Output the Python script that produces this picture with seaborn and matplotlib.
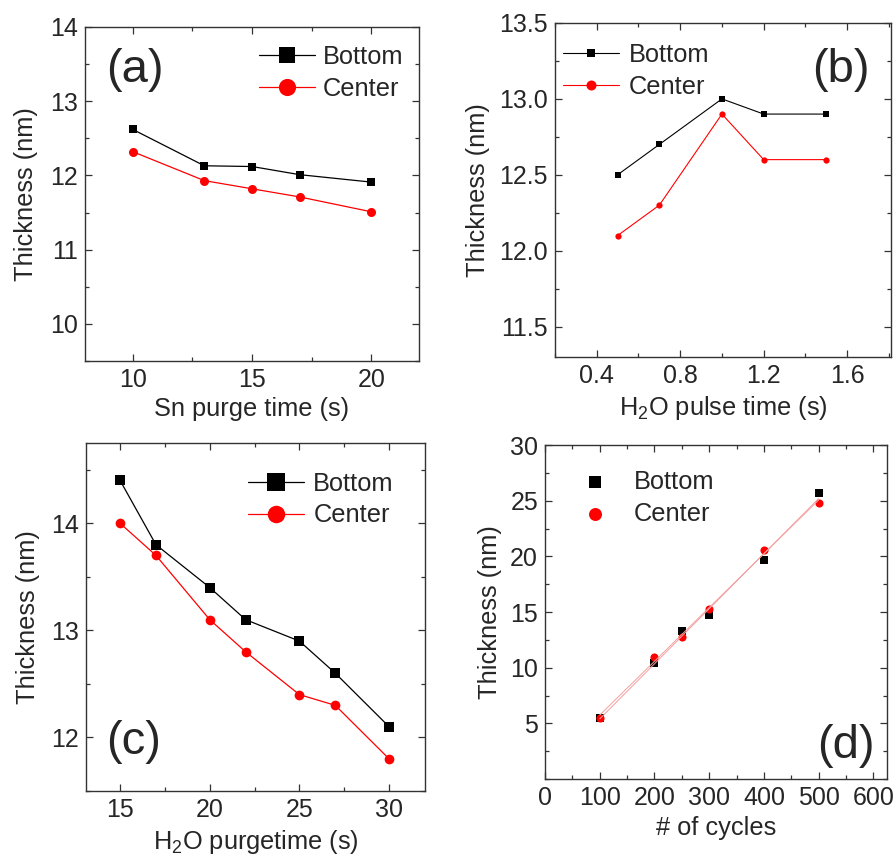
import numpy as np
import pandas as pd
import seaborn as sns
import matplotlib
matplotlib.use('Agg')
import matplotlib.pyplot as plt
from matplotlib.ticker import MultipleLocator, FormatStrFormatter

sns.set_style('ticks')
plt.rcParams['font.family'] = ['Liberation Sans', 'DejaVu Sans']
plt.rcParams['mathtext.fontset'] = 'custom'
plt.rcParams['mathtext.rm'] = 'Liberation Sans'
plt.rcParams['mathtext.it'] = 'Liberation Sans:italic'

# (a) Sn purge time
sn_purge = [10, 13, 15, 17, 20]
a_bottom = [12.62, 12.13, 12.12, 12.01, 11.91]
a_center = [12.32, 11.93, 11.82, 11.71, 11.51]

# (b) H2O pulse time
h2o_pulse = [0.5, 0.7, 1.0, 1.2, 1.5]
b_bottom = [12.5, 12.7, 13.0, 12.9, 12.9]
b_center = [12.1, 12.3, 12.9, 12.6, 12.6]

# (c) H2O purge time
h2o_purge = [15, 17, 20, 22, 25, 27, 30]
c_bottom = [14.4, 13.8, 13.4, 13.1, 12.9, 12.6, 12.1]
c_center = [14.0, 13.7, 13.1, 12.8, 12.4, 12.3, 11.8]

# (d) number of cycles
cycles = [100, 200, 250, 300, 400, 500]
d_bottom = [5.5, 10.4, 13.3, 14.7, 19.7, 25.7]
d_center = [5.5, 11.0, 12.8, 15.3, 20.6, 24.8]

fig = plt.figure(figsize=(8.96, 8.57), dpi=100)
ax_a = fig.add_axes([0.0949, 0.5788, 0.3728, 0.3897])
ax_b = fig.add_axes([0.6194, 0.5834, 0.3750, 0.3898])
ax_c = fig.add_axes([0.0960, 0.0770, 0.3783, 0.4061])
ax_d = fig.add_axes([0.6083, 0.0910, 0.3817, 0.3897])

fs = 18.3
tfs = 18
pfs = 34


def style(ax, xmaj, xmin, ymaj, ymin, lpad=0.5):
    ax.xaxis.set_major_locator(MultipleLocator(xmaj))
    ax.xaxis.set_minor_locator(MultipleLocator(xmin))
    ax.yaxis.set_major_locator(MultipleLocator(ymaj))
    ax.yaxis.set_minor_locator(MultipleLocator(ymin))
    ax.tick_params(which='both', direction='in', top=True, right=True,
                   color='#333333', width=0.9)
    ax.tick_params(which='major', length=5, labelsize=tfs, pad=5)
    ax.tick_params(which='minor', length=3)
    for s in ax.spines.values():
        s.set_color('#333333')
        s.set_linewidth(1.0)
    ax.set_ylabel('Thickness (nm)', fontsize=fs, labelpad=lpad)


leg_kw = dict(frameon=False, fontsize=fs, borderaxespad=0, borderpad=0,
              labelspacing=0.3)

# (a)
sns.lineplot(x=sn_purge, y=a_bottom, ax=ax_a, color='black', marker='s',
             markersize=6, markeredgewidth=0, lw=0.9, label='Bottom')
sns.lineplot(x=sn_purge, y=a_center, ax=ax_a, color='red', marker='o',
             markersize=6.5, markeredgewidth=0, lw=0.9, label='Center')
ax_a.set_xlim(8, 22)
ax_a.set_ylim(9.5, 14)
style(ax_a, 5, 2.5, 1, 0.5, lpad=9)
ax_a.set_xlabel('Sn purge time (s)', fontsize=fs)
ax_a.legend(loc='upper right', bbox_to_anchor=(0.952, 0.945), markerscale=1.9,
            handlelength=2.2, handletextpad=0.3, **leg_kw)
ax_a.text(0.15, 0.87, '(a)', transform=ax_a.transAxes, fontsize=pfs,
          ha='center', va='center')

# (b)
sns.lineplot(x=h2o_pulse, y=b_bottom, ax=ax_b, color='black', marker='s',
             markersize=4, markeredgewidth=0, lw=0.8, label='Bottom')
sns.lineplot(x=h2o_pulse, y=b_center, ax=ax_b, color='red', marker='o',
             markersize=4.5, markeredgewidth=0, lw=0.8, label='Center')
ax_b.set_xlim(0.2, 1.81)
ax_b.set_ylim(11.3, 13.5)
style(ax_b, 0.4, 0.2, 0.5, 0.25, lpad=7)
ax_b.yaxis.set_major_formatter(FormatStrFormatter('%.1f'))
ax_b.set_xlabel('H$_2$O pulse time (s)', fontsize=fs)
ax_b.legend(loc='upper left', bbox_to_anchor=(0.024, 0.94), markerscale=1.6,
            handlelength=2.2, handletextpad=0.4, **leg_kw)
ax_b.text(0.85, 0.86, '(b)', transform=ax_b.transAxes, fontsize=pfs,
          ha='center', va='center')

# (c)
sns.lineplot(x=h2o_purge, y=c_bottom, ax=ax_c, color='black', marker='s',
             markersize=7, markeredgewidth=0, lw=0.9, label='Bottom')
sns.lineplot(x=h2o_purge, y=c_center, ax=ax_c, color='red', marker='o',
             markersize=7, markeredgewidth=0, lw=0.9, label='Center')
ax_c.set_xlim(13.1, 32)
ax_c.set_ylim(11.5, 14.75)
style(ax_c, 5, 2.5, 1, 0.5, lpad=8)
ax_c.set_xlabel('H$_2$O purgetime (s)', fontsize=fs)
ax_c.legend(loc='upper right', bbox_to_anchor=(0.908, 0.917), markerscale=1.8,
            handlelength=2.2, handletextpad=0.35, **leg_kw)
ax_c.text(0.14, 0.14, '(c)', transform=ax_c.transAxes, fontsize=pfs,
          ha='center', va='center')

# (d)
for yv in [d_bottom, d_center]:
    sns.regplot(x=np.array(cycles), y=np.array(yv), ax=ax_d, scatter=False,
                ci=None, color='#f4a0a0', line_kws={'lw': 0.7}, truncate=True)
sns.scatterplot(x=cycles, y=d_bottom, ax=ax_d, color='black', marker='s',
                s=30, linewidth=0, label='Bottom')
sns.scatterplot(x=cycles, y=d_center, ax=ax_d, color='red', marker='o',
                s=34, linewidth=0, label='Center')
ax_d.set_xlim(0, 625)
ax_d.set_ylim(0, 30)
style(ax_d, 100, 50, 5, 2.5, lpad=6)
ax_d.set_yticks([5, 10, 15, 20, 25, 30])
ax_d.set_xlabel('# of cycles', fontsize=fs)
ax_d.legend(loc='upper left', bbox_to_anchor=(0.11, 0.925), markerscale=1.6,
            handlelength=1.0, handletextpad=1.0, **leg_kw)
ax_d.text(0.88, 0.10, '(d)', transform=ax_d.transAxes, fontsize=pfs,
          ha='center', va='center')

fig.savefig('out.png', dpi=100)
